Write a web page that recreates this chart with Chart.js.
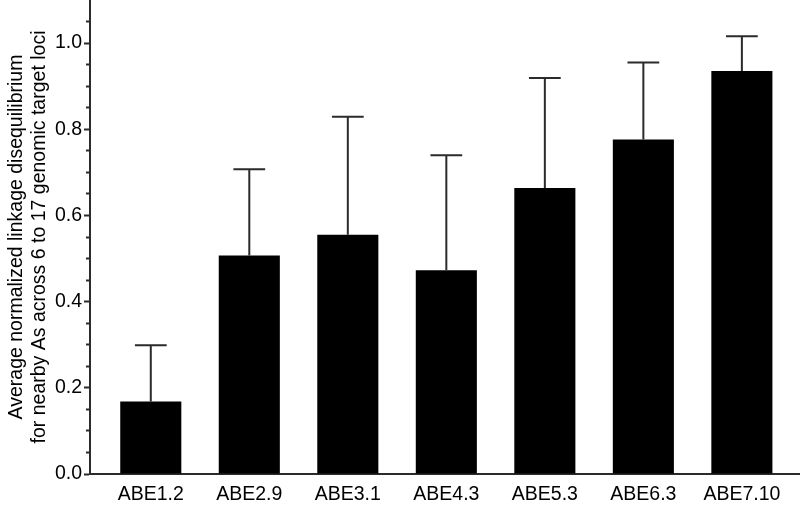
<!DOCTYPE html>
<html>
<head>
<meta charset="utf-8">
<script src="https://cdn.jsdelivr.net/npm/chart.js@4/dist/chart.umd.min.js"></script>
<style>
  html, body { margin: 0; padding: 0; background: #ffffff; }
  #wrap { width: 800px; height: 507px; }
</style>
</head>
<body>
<div id="wrap"><canvas id="c" width="800" height="507"></canvas></div>
<script>
// ---- data ----
const categories = ["ABE1.2", "ABE2.9", "ABE3.1", "ABE4.3", "ABE5.3", "ABE6.3", "ABE7.10"];
const means = [0.168, 0.507, 0.555, 0.473, 0.664, 0.776, 0.935];
const errorsUp = [0.131, 0.200, 0.274, 0.267, 0.255, 0.179, 0.081];
const yMajorTicks = [0.0, 0.2, 0.4, 0.6, 0.8, 1.0];
const yMinorTicks = [0.05, 0.1, 0.15, 0.25, 0.3, 0.35, 0.45, 0.5, 0.55, 0.65, 0.7, 0.75, 0.85, 0.9, 0.95, 1.05];
const yTitle = ["Average normalized linkage disequilibrium", "for nearby As across 6 to 17 genomic target loci"];

const FONT = "'Liberation Sans', Arial, Helvetica, sans-serif";
const AXIS_COLOR = '#2b2b2b';

const errorBars = {
  id: 'errorBars',
  afterDatasetsDraw(chart) {
    const ctx = chart.ctx;
    const meta = chart.getDatasetMeta(0);
    const ys = chart.scales.y;
    ctx.save();
    ctx.strokeStyle = AXIS_COLOR;
    ctx.lineWidth = 2;
    meta.data.forEach((bar, i) => {
      const x = bar.x;
      const yTop = ys.getPixelForValue(means[i] + errorsUp[i]);
      const yBar = ys.getPixelForValue(means[i]);
      const half = bar.width * 0.26;
      ctx.beginPath();
      ctx.moveTo(x, yBar);
      ctx.lineTo(x, yTop);
      ctx.moveTo(x - half, yTop);
      ctx.lineTo(x + half, yTop);
      ctx.stroke();
    });
    ctx.restore();
  }
};

new Chart(document.getElementById('c'), {
  type: 'bar',
  data: {
    datasets: [{
      data: categories.map((c, i) => ({ x: i, y: means[i] })),
      backgroundColor: '#000000',
      borderWidth: 0,
      categoryPercentage: 1.0,
      barPercentage: 0.62
    }]
  },
  plugins: [errorBars],
  options: {
    responsive: false,
    devicePixelRatio: 1,
    animation: false,
    layout: { padding: 0 },
    plugins: { legend: { display: false }, tooltip: { enabled: false } },
    scales: {
      x: {
        type: 'linear',
        offset: false,
        min: -0.617,
        max: 6.59,
        grid: { display: false, drawTicks: false, offset: false },
        border: { display: true, color: AXIS_COLOR, width: 2 },
        afterBuildTicks(scale) { scale.ticks = categories.map((c, i) => ({ value: i })); },
        afterFit(scale) { scale.height = 33; scale.paddingLeft = 0; scale.paddingRight = 0; },
        ticks: {
          autoSkip: false,
          maxRotation: 0,
          padding: 9,
          color: '#000000',
          font: { family: FONT, size: 19.5 },
          callback: (v) => categories[v] ?? ''
        }
      },
      y: {
        type: 'linear',
        position: 'left',
        weight: 1,
        min: 0,
        max: 1.1,
        afterBuildTicks(scale) { scale.ticks = yMajorTicks.map(v => ({ value: v })); },
        afterFit(scale) { scale.width = 90; scale.paddingTop = 0; scale.paddingBottom = 0; },
        grid: { display: true, drawOnChartArea: false, drawTicks: true, tickLength: 6, tickWidth: 2, tickColor: AXIS_COLOR },
        border: { display: true, color: AXIS_COLOR, width: 2 },
        ticks: {
          padding: 2,
          color: '#000000',
          font: { family: FONT, size: 19.5 },
          callback: (v) => v.toFixed(1)
        },
        title: {
          display: true,
          text: yTitle,
          color: '#000000',
          font: { family: FONT, size: 19.5, lineHeight: 1.18 },
          padding: { top: 5.5, bottom: 0 }
        }
      },
      yMinor: {
        type: 'linear',
        position: 'left',
        weight: 0,
        min: 0,
        max: 1.1,
        afterBuildTicks(scale) { scale.ticks = yMinorTicks.map(v => ({ value: v })); },
        afterFit(scale) { scale.width = 0; scale.paddingTop = 0; scale.paddingBottom = 0; },
        grid: { display: true, drawOnChartArea: false, drawTicks: true, tickLength: 4, tickWidth: 2, tickColor: AXIS_COLOR },
        border: { display: false },
        ticks: { display: false }
      }
    }
  }
});
</script>
</body>
</html>
